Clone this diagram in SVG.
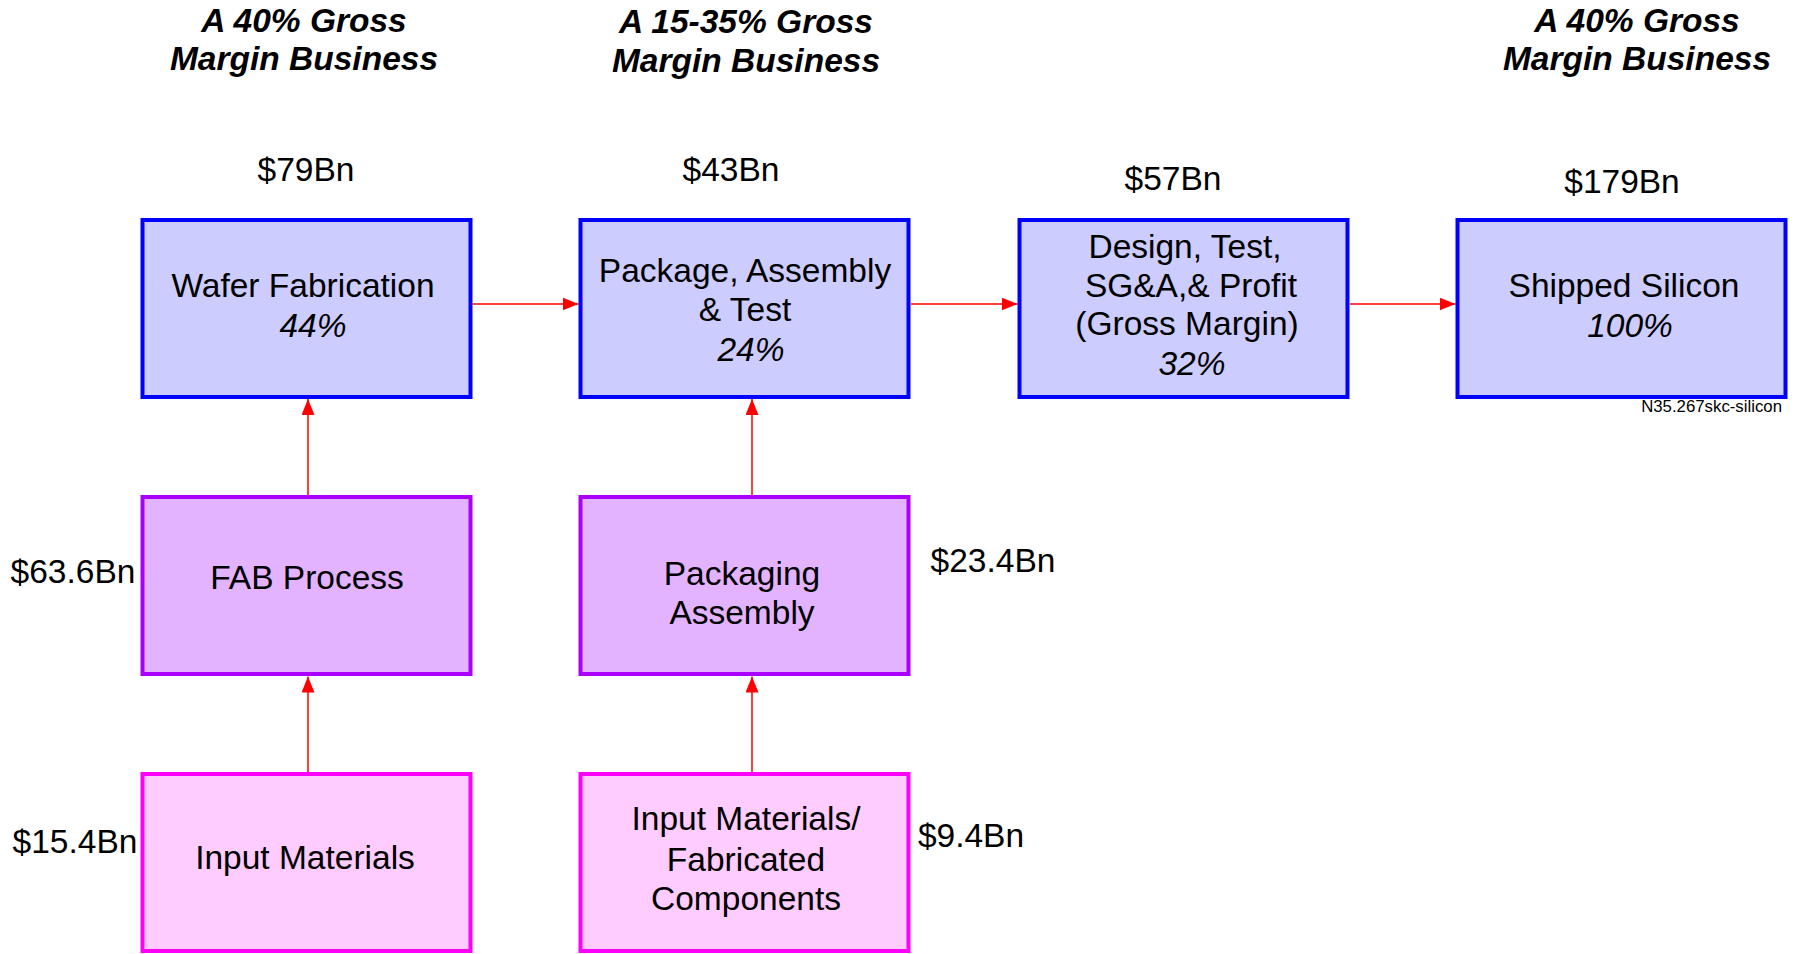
<svg xmlns="http://www.w3.org/2000/svg" width="1801" height="954" viewBox="0 0 1801 954">
<style>
  text { font-family: "Liberation Sans", Arial, sans-serif; font-size: 33.5px; fill: #000; }
  .title { font-weight: bold; font-style: italic; text-anchor: middle; }
  .c { text-anchor: middle; }
  .it { font-style: italic; }
  .blue { fill: #CCCCFF; stroke: #0000FF; stroke-width: 4; }
  .purple { fill: #E3B3FF; stroke: #AA00FF; stroke-width: 4; }
  .pink { fill: #FFCCFF; stroke: #FF00FF; stroke-width: 4; }
  .conn { stroke: #FF0000; stroke-width: 1.5; fill: none; marker-end: url(#ah); }
  .note { font-size: 16.8px; text-anchor: end; }
</style>
<defs>
  <marker id="ah" markerUnits="userSpaceOnUse" markerWidth="16" markerHeight="13" refX="16" refY="6.5" orient="auto">
    <path d="M0,0 L16,6.5 L0,13 Z" fill="#FF0000"/>
  </marker>
</defs>
<rect width="1801" height="954" fill="#FFFFFF"/>

<g id="titles">
  <text class="title" x="304" y="32">A 40% Gross</text>
  <text class="title" x="304" y="70">Margin Business</text>
  <text class="title" x="746" y="33">A 15-35% Gross</text>
  <text class="title" x="746" y="72">Margin Business</text>
  <text class="title" x="1637" y="32">A 40% Gross</text>
  <text class="title" x="1637" y="70">Margin Business</text>
</g>

<g id="connectors">
  <line class="conn" x1="472.5" y1="304" x2="578.5" y2="304"/>
  <line class="conn" x1="911" y1="304" x2="1017.5" y2="304"/>
  <line class="conn" x1="1350" y1="304" x2="1455.5" y2="304"/>
  <line class="conn" x1="308" y1="495" x2="308" y2="399"/>
  <line class="conn" x1="752" y1="495" x2="752" y2="399"/>
  <line class="conn" x1="308" y1="772" x2="308" y2="676.5"/>
  <line class="conn" x1="752" y1="772" x2="752" y2="676.5"/>
</g>

<g id="wafer-fabrication">
  <text class="c" x="306" y="181">$79Bn</text>
  <rect class="blue" x="142.5" y="220" width="328" height="177"/>
  <text class="c" x="303" y="297">Wafer Fabrication</text>
  <text class="c it" x="313" y="337">44%</text>
</g>

<g id="package-assembly-test">
  <text class="c" x="731" y="181">$43Bn</text>
  <rect class="blue" x="580.5" y="220" width="328" height="177"/>
  <text class="c" x="745" y="282">Package, Assembly</text>
  <text class="c" x="745" y="321">&amp; Test</text>
  <text class="c it" x="751" y="361">24%</text>
</g>

<g id="design-test">
  <text class="c" x="1173" y="190">$57Bn</text>
  <rect class="blue" x="1019.5" y="220" width="328" height="177"/>
  <text class="c" x="1185" y="258">Design, Test,</text>
  <text class="c" x="1191" y="297">SG&amp;A,&amp; Profit</text>
  <text class="c" x="1187" y="335">(Gross Margin)</text>
  <text class="c it" x="1192" y="375">32%</text>
</g>

<g id="shipped-silicon">
  <text class="c" x="1622" y="193">$179Bn</text>
  <rect class="blue" x="1457.5" y="220" width="328" height="177"/>
  <text class="c" x="1624" y="297">Shipped Silicon</text>
  <text class="c it" x="1630" y="337">100%</text>
  <text class="note" x="1782" y="412">N35.267skc-silicon</text>
</g>

<g id="fab-process">
  <text class="c" x="73" y="583">$63.6Bn</text>
  <rect class="purple" x="142.5" y="497" width="328" height="177"/>
  <text class="c" x="307" y="589">FAB Process</text>
</g>

<g id="packaging-assembly">
  <text class="c" x="993" y="572">$23.4Bn</text>
  <rect class="purple" x="580.5" y="497" width="328" height="177"/>
  <text class="c" x="742" y="585">Packaging</text>
  <text class="c" x="742" y="624">Assembly</text>
</g>

<g id="input-materials">
  <text class="c" x="75" y="853">$15.4Bn</text>
  <rect class="pink" x="142.5" y="774" width="328" height="177"/>
  <text class="c" x="305" y="869">Input Materials</text>
</g>

<g id="input-materials-fabricated">
  <text class="c" x="971" y="847">$9.4Bn</text>
  <rect class="pink" x="580.5" y="774" width="328" height="177"/>
  <text class="c" x="746" y="830">Input Materials/</text>
  <text class="c" x="746" y="871">Fabricated</text>
  <text class="c" x="746" y="910">Components</text>
</g>
</svg>
